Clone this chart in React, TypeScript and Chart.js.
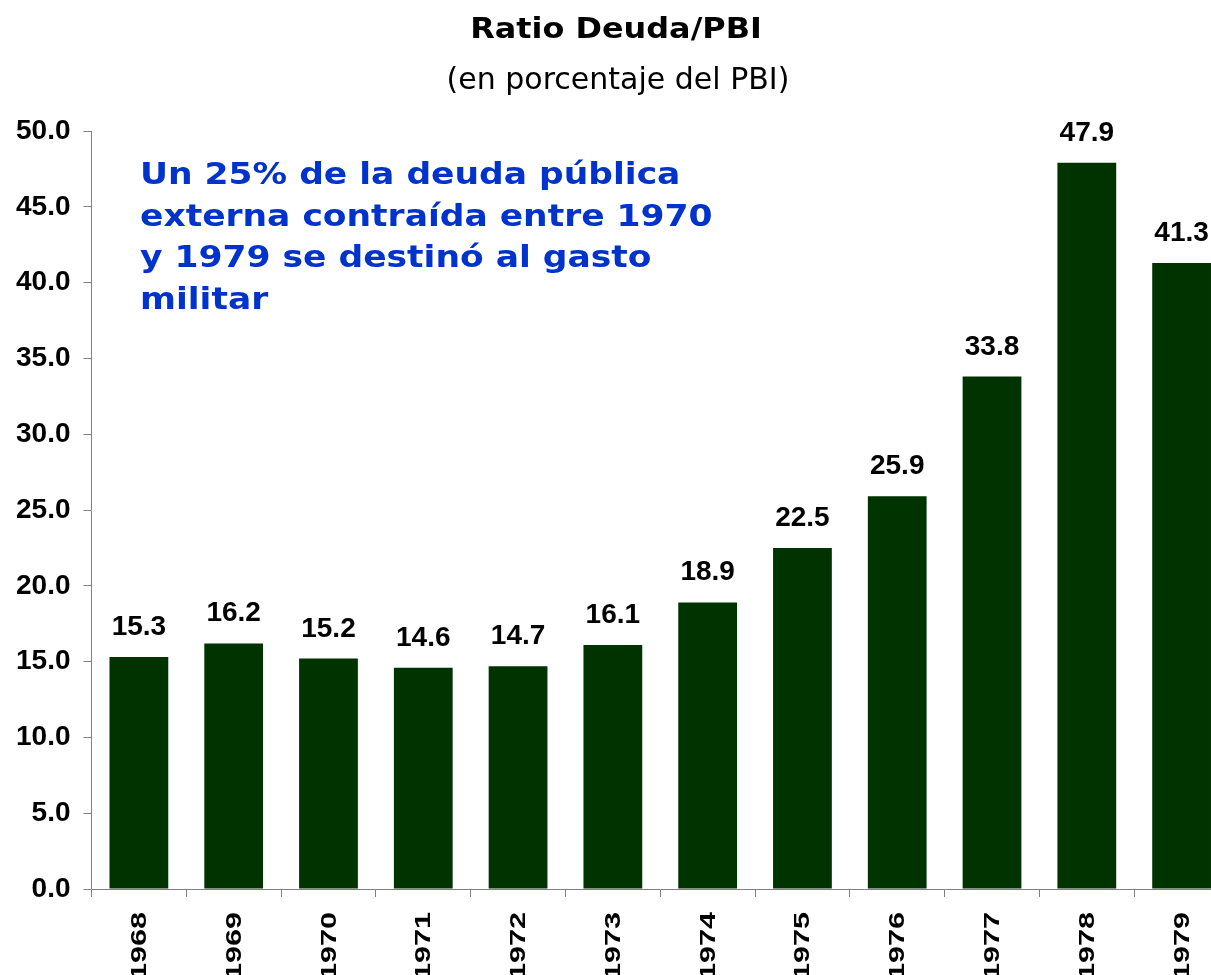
import React, { useEffect, useRef } from "react";
import { Chart, registerables } from "chart.js";

Chart.register(...registerables);

const years = ["1968", "1969", "1970", "1971", "1972", "1973", "1974", "1975", "1976", "1977", "1978", "1979"];
const ratio = [15.3, 16.2, 15.2, 14.6, 14.7, 16.1, 18.9, 22.5, 25.9, 33.8, 47.9, 41.3];
const yMin = 0;
const yMax = 50;
const yStep = 5;
const titleText = "Ratio Deuda/PBI";
const subtitleText = "(en porcentaje del PBI)";
const noteLines = [
  "Un 25% de la deuda pública",
  "externa contraída entre 1970",
  "y 1979 se destinó al gasto",
  "militar",
];

const ARIAL = "'Liberation Sans', Arial, sans-serif";
const VERDANA = "'DejaVu Sans', Verdana, sans-serif";

function drawScaled(
  ctx: CanvasRenderingContext2D,
  text: string,
  x: number,
  y: number,
  font: string,
  color: string,
  sx: number,
  align: CanvasTextAlign
) {
  ctx.save();
  ctx.font = font;
  ctx.fillStyle = color;
  ctx.textBaseline = "alphabetic";
  ctx.textAlign = align;
  ctx.translate(x, y);
  ctx.scale(sx, 1);
  ctx.fillText(text, 0, 0);
  ctx.restore();
}

const textPlugin = {
  id: "texts",
  afterDraw(chart: any) {
    const ctx = chart.ctx as CanvasRenderingContext2D;
    drawScaled(ctx, titleText, 616, 38, `bold 29px ${VERDANA}`, "#000000", 1.1, "center");
    drawScaled(ctx, subtitleText, 618, 89, `30px ${VERDANA}`, "#000000", 1.0, "center");
    noteLines.forEach((line, i) => {
      drawScaled(ctx, line, 140, 184 + i * 41.5, `bold 30px ${VERDANA}`, "#0033cc", 1.15, "left");
    });
  },
};

const valueLabelPlugin = {
  id: "valueLabels",
  afterDatasetsDraw(chart: any) {
    const ctx = chart.ctx as CanvasRenderingContext2D;
    const meta = chart.getDatasetMeta(0);
    ctx.save();
    ctx.font = `bold 28px ${ARIAL}`;
    ctx.fillStyle = "#000000";
    ctx.textAlign = "center";
    ctx.textBaseline = "alphabetic";
    meta.data.forEach((bar: any, i: number) => {
      ctx.fillText(ratio[i].toFixed(1), bar.x, bar.y - 22);
    });
    ctx.restore();
  },
};

const xLabelPlugin = {
  id: "xLabels",
  afterDraw(chart: any) {
    const ctx = chart.ctx as CanvasRenderingContext2D;
    const xs = chart.scales.x;
    const y0 = chart.chartArea.bottom + 23;
    years.forEach((label, i) => {
      const x = xs.getPixelForValue(i);
      ctx.save();
      ctx.font = `bold 22px ${ARIAL}`;
      ctx.fillStyle = "#000000";
      ctx.textAlign = "right";
      ctx.textBaseline = "middle";
      ctx.translate(x + 1, y0);
      ctx.rotate(-Math.PI / 2);
      ctx.scale(1.39, 1);
      ctx.fillText(label, 0, 0);
      ctx.restore();
    });
  },
};

export default function App() {
  const canvasRef = useRef<HTMLCanvasElement | null>(null);

  useEffect(() => {
    if (!canvasRef.current) return;
    const chart = new Chart(canvasRef.current, {
      type: "bar",
      data: {
        labels: years,
        datasets: [
          {
            data: ratio,
            backgroundColor: "#003300",
            borderWidth: 0,
            categoryPercentage: 1,
            barPercentage: 0.62,
          },
        ],
      },
      options: {
        responsive: false,
        animation: false,
        devicePixelRatio: 1,
        layout: { padding: { left: 3, top: 131, right: 3, bottom: 78 } },
        plugins: {
          legend: { display: false },
          tooltip: { enabled: false },
          title: { display: false },
        },
        scales: {
          x: {
            offset: true,
            grid: {
              offset: true,
              drawOnChartArea: false,
              drawTicks: true,
              tickLength: 8,
              color: "#808080",
            },
            border: { color: "#808080", width: 1 },
            ticks: { display: false },
          },
          y: {
            min: yMin,
            max: yMax,
            ticks: {
              stepSize: yStep,
              callback: (v: any) => Number(v).toFixed(1),
              font: { family: ARIAL, size: 28, weight: "bold" },
              color: "#000000",
              padding: 13,
            },
            grid: {
              drawOnChartArea: false,
              drawTicks: true,
              tickLength: 8,
              color: "#808080",
            },
            border: { color: "#808080", width: 1 },
          },
        },
      },
      plugins: [valueLabelPlugin, xLabelPlugin, textPlugin],
    } as any);
    return () => chart.destroy();
  }, []);

  return (
    <div
      style={{
        position: "absolute",
        left: 0,
        top: 0,
        width: 1211,
        height: 975,
        overflow: "hidden",
        background: "#ffffff",
      }}
    >
      <canvas ref={canvasRef} width={1232} height={975} style={{ display: "block" }} />
    </div>
  );
}
